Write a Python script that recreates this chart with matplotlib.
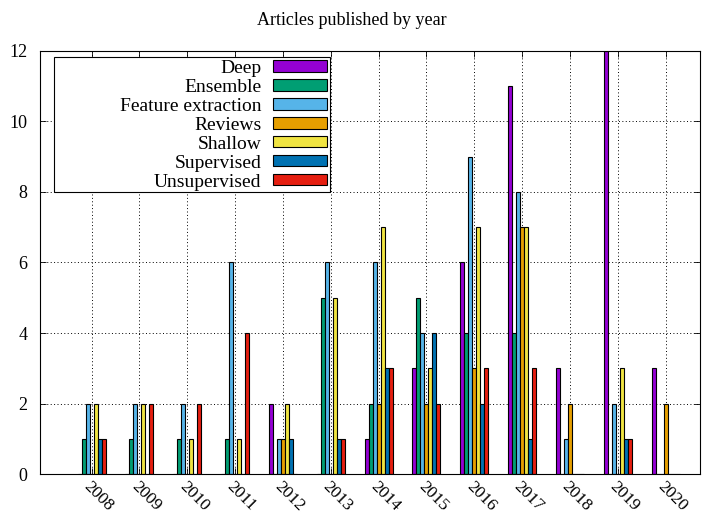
import numpy as np
import matplotlib.pyplot as plt
from matplotlib.patches import Rectangle

plt.rcParams['font.family'] = ['Liberation Serif', 'DejaVu Serif']

years = ['2008', '2009', '2010', '2011', '2012', '2013', '2014',
         '2015', '2016', '2017', '2018', '2019', '2020']
categories = ['Deep', 'Ensemble', 'Feature extraction', 'Reviews',
              'Shallow', 'Supervised', 'Unsupervised']

deep = [0, 0, 0, 0, 2, 0, 1, 3, 6, 11, 3, 12, 3]
ensemble = [1, 1, 1, 1, 0, 5, 2, 5, 4, 4, 0, 0, 0]
feature_extraction = [2, 2, 2, 6, 1, 6, 6, 4, 9, 8, 1, 2, 0]
reviews = [0, 0, 0, 0, 1, 0, 2, 2, 3, 7, 2, 0, 2]
shallow = [2, 2, 1, 1, 2, 5, 7, 3, 7, 7, 0, 3, 0]
supervised = [1, 0, 0, 0, 1, 1, 3, 4, 2, 1, 0, 1, 0]
unsupervised = [1, 2, 2, 4, 0, 1, 3, 2, 3, 3, 0, 1, 0]

series = [deep, ensemble, feature_extraction, reviews,
          shallow, supervised, unsupervised]
colors = ['#9400d3', '#009e73', '#56b4e9', '#e69f00',
          '#f0e442', '#0072b2', '#e51e10']

W, H = 703, 517
fig = plt.figure(figsize=(W / 100, H / 100), dpi=100)
ax = fig.add_axes([0.0569, 0.0826, 0.9388, 0.8194])

x = np.arange(len(years))
w = 0.0836
for i, (vals, name, col) in enumerate(zip(series, categories, colors)):
    ax.bar(x + (i - 3) * w, vals, width=w, color=col, edgecolor='black',
           linewidth=0.8, label=name, zorder=2)

ax.set_xlim(-1.08, 12.72)
ax.set_ylim(0, 12)
ax.set_yticks(range(0, 13, 2))
ax.set_xticks(x)
ax.set_xticklabels(years, rotation=-45, ha='left', va='top',
                   rotation_mode='anchor')
ax.tick_params(axis='both', direction='in', top=True, right=True,
               labelsize=13, length=4, width=0.6)
ax.tick_params(axis='y', pad=9)
ax.tick_params(axis='x', pad=3, labelsize=12.5)

ax.set_axisbelow(True)
ax.grid(True, linestyle=(0, (1, 2.5)), color='black', linewidth=0.7)
for s in ax.spines.values():
    s.set_linewidth(0.8)

fig.text(0.5, 0.961, 'Articles published by year', ha='center',
         va='center', fontsize=13)

# key box: wide frame, labels right-aligned next to the swatches
ax.add_patch(Rectangle((54 / W, 1 - 192 / H), 276 / W, 135 / H,
                       transform=fig.transFigure, facecolor='white',
                       edgecolor='black', linewidth=0.8, zorder=4))
leg = ax.legend(loc='upper right', bbox_to_anchor=(329 / W, 1 - 58 / H),
                bbox_transform=fig.transFigure, markerfirst=False,
                frameon=False, fontsize=14, handlelength=2.8,
                handleheight=0.52, labelspacing=0.1, borderpad=0.1,
                handletextpad=0.57, borderaxespad=0)
leg.set_zorder(5)

fig.savefig('out.png', dpi=100)
